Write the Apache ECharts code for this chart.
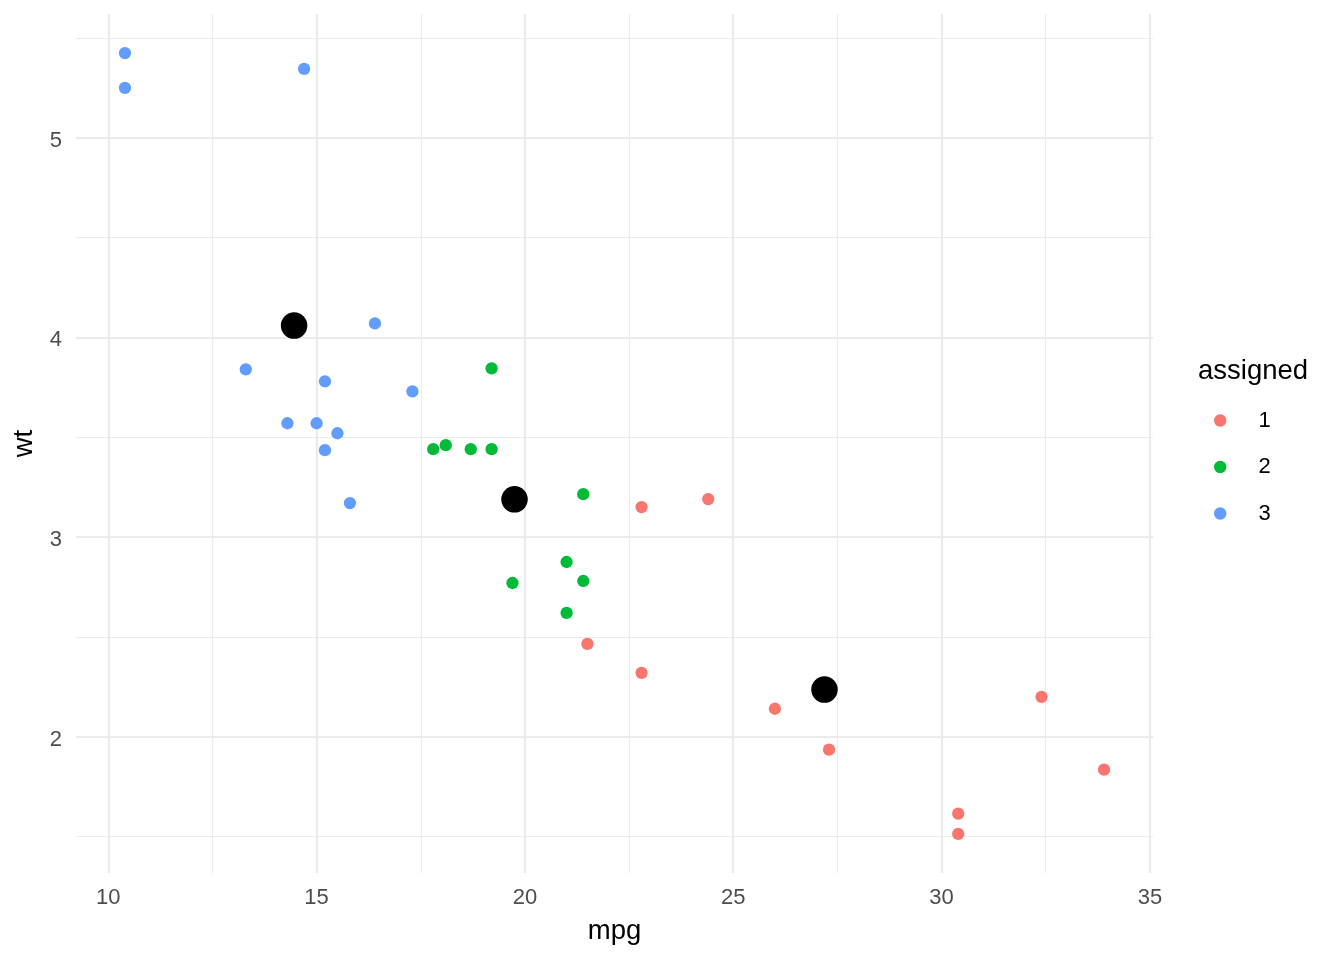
<!DOCTYPE html>
<html>
<head>
<meta charset="utf-8">
<script src="https://cdn.jsdelivr.net/npm/echarts@6/dist/echarts.min.js"></script>
<style>html,body{margin:0;padding:0;background:#fff;}#c{width:1344px;height:960px;}</style>
</head>
<body>
<div id="c"></div>
<script>
// mtcars mpg vs wt, k-means clusters
const cluster1 = [[22.8,3.150],[24.4,3.190],[21.5,2.465],[22.8,2.320],[26.0,2.140],[27.3,1.935],[32.4,2.200],[33.9,1.835],[30.4,1.615],[30.4,1.513]];
const cluster2 = [[19.2,3.845],[17.8,3.440],[18.1,3.460],[18.7,3.440],[19.2,3.440],[21.4,3.215],[21.0,2.875],[21.4,2.780],[19.7,2.770],[21.0,2.620]];
const cluster3 = [[10.4,5.424],[10.4,5.250],[14.7,5.345],[16.4,4.070],[13.3,3.840],[15.2,3.780],[17.3,3.730],[14.3,3.570],[15.0,3.570],[15.5,3.520],[15.2,3.435],[15.8,3.170]];
const centers = [[27.19,2.236],[19.75,3.189],[14.46,4.059]];
const clusterNames = ['1','2','3'];
const xMajor = [10,15,20,25,30,35];
const xMinor = [12.5,17.5,22.5,27.5,32.5];
const yMajor = [2,3,4,5];
const yMinor = [1.5,2.5,3.5,4.5,5.5];

const colors = ['#F8766D','#00BA38','#619CFF'];
const xMin = 9.225, xMax = 35.075, yMin = 1.3175, yMax = 5.6196;

const chart = echarts.init(document.getElementById('c'), null, {renderer:'canvas'});
const font = 'Liberation Sans, Arial, Helvetica, sans-serif';

const gridLines = [];
xMajor.forEach(v => gridLines.push({xAxis: v, lineStyle:{color:'#EBEBEB', width:2.2, type:'solid'}}));
xMinor.forEach(v => gridLines.push({xAxis: v, lineStyle:{color:'#EBEBEB', width:1.1, type:'solid'}}));
yMajor.forEach(v => gridLines.push({yAxis: v, lineStyle:{color:'#EBEBEB', width:2.2, type:'solid'}}));
yMinor.forEach(v => gridLines.push({yAxis: v, lineStyle:{color:'#EBEBEB', width:1.1, type:'solid'}}));

const clusters = [cluster1, cluster2, cluster3];

chart.setOption({
  animation: false,
  backgroundColor: '#ffffff',
  textStyle: {fontFamily: font},
  grid: {left: 76, right: 191, top: 14, bottom: 87, containLabel: false},
  title: {
    text: 'assigned', left: 1198, top: 357, padding: 0,
    textStyle: {fontFamily: font, fontSize: 27.5, fontWeight: 'normal', color: '#000'}
  },
  legend: {
    data: clusterNames,
    orient: 'vertical',
    left: 1214, top: 409.5, padding: 0,
    itemWidth: 12.4, itemHeight: 12.4,
    itemGap: 24.5,
    icon: 'circle',
    textStyle: {fontFamily: font, fontSize: 22, color: '#000', padding: [0,0,0,27]}
  },
  xAxis: {
    type: 'value', min: xMin, max: xMax,
    name: 'mpg', nameLocation: 'middle', nameGap: 44,
    nameTextStyle: {fontFamily: font, fontSize: 27.5, color: '#000'},
    axisLine: {show: false}, axisTick: {show: false}, splitLine: {show: false},
    axisLabel: {customValues: xMajor, fontSize: 22, color: '#4D4D4D', margin: 14, fontFamily: font}
  },
  yAxis: {
    type: 'value', min: yMin, max: yMax,
    name: 'wt', nameLocation: 'middle', nameGap: 30, nameRotate: 90,
    nameTextStyle: {fontFamily: font, fontSize: 27.5, color: '#000'},
    axisLine: {show: false}, axisTick: {show: false}, splitLine: {show: false},
    axisLabel: {
      customValues: yMajor, margin: 14,
      formatter: v => '{t|' + v + '}',
      rich: {t: {fontSize: 22, color: '#4D4D4D', fontFamily: font, padding: [6,0,0,0]}}
    }
  },
  series: [
    {
      type: 'scatter', data: [], silent: true, z: 0, zlevel: 0,
      markLine: {silent: true, z: 0, symbol: ['none','none'], label: {show: false}, animation: false, data: gridLines}
    },
    ...clusters.map((d, i) => ({
      name: clusterNames[i], type: 'scatter', data: d, symbol: 'circle', symbolSize: 12.3,
      itemStyle: {color: colors[i], opacity: 1, borderWidth: 0}, z: 5, zlevel: 1
    })),
    {
      name: 'centers', type: 'scatter', data: centers, symbol: 'circle', symbolSize: 26.5,
      itemStyle: {color: '#000000', opacity: 1, borderWidth: 0}, z: 6, zlevel: 1
    }
  ]
});
</script>
</body>
</html>
